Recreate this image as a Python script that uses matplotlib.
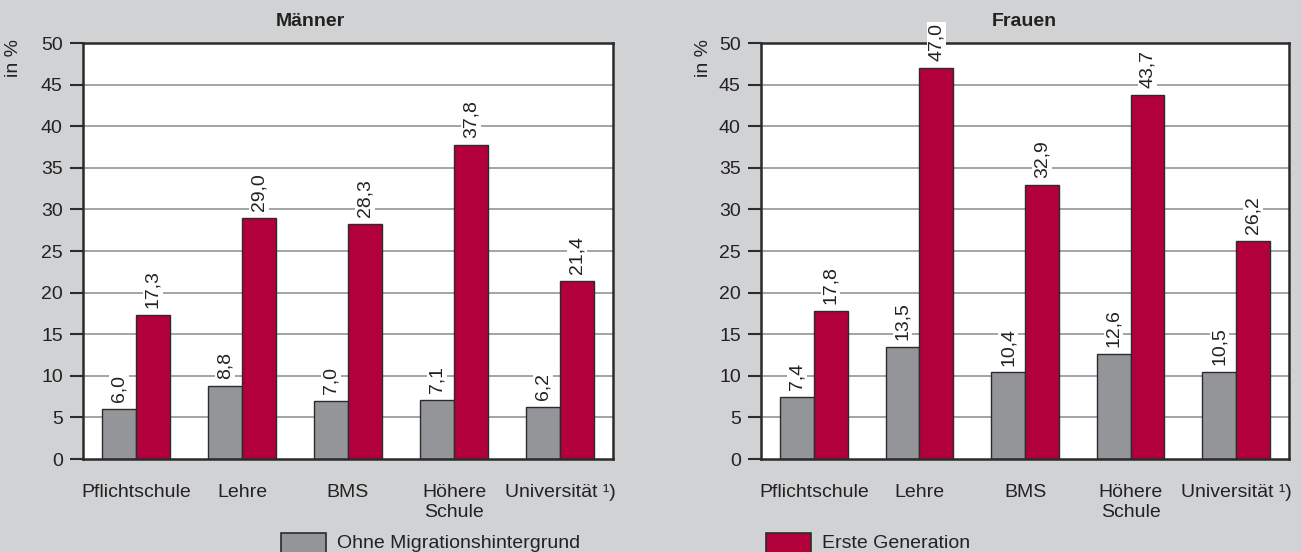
import matplotlib
matplotlib.use("Agg")
import matplotlib.pyplot as plt
from matplotlib.patches import Rectangle
import numpy as np

plt.rcParams['font.family'] = ['Liberation Sans', 'DejaVu Sans']

categories = ["Pflichtschule", "Lehre", "BMS", "Höhere\nSchule", "Universität ¹)"]
series_names = ["Ohne Migrationshintergrund", "Erste Generation"]
maenner_ohne = [6.0, 8.8, 7.0, 7.1, 6.2]
maenner_erste = [17.3, 29.0, 28.3, 37.8, 21.4]
frauen_ohne = [7.4, 13.5, 10.4, 12.6, 10.5]
frauen_erste = [17.8, 47.0, 32.9, 43.7, 26.2]
panel_titles = ["Männer", "Frauen"]
y_ticks = [0, 5, 10, 15, 20, 25, 30, 35, 40, 45, 50]

BG = "#d1d2d4"
GREY = "#939598"
RED = "#b1003b"
EDGE = "#2b2b2b"
GRID = "#a3a4a6"
TXT = "#222222"
FS = 14

W, H = 1302, 552
fig = plt.figure(figsize=(W / 100, H / 100), dpi=100, facecolor=BG)


def px_axes(x0, y_top, x1, y_bot):
    return fig.add_axes([x0 / W, 1 - y_bot / H, (x1 - x0) / W, (y_bot - y_top) / H])


def fmt(v):
    return f"{v:.1f}".replace(".", ",")


def draw_panel(ax, ohne, erste):
    x = np.arange(len(categories))
    bw = 0.32
    ax.set_facecolor("white")
    ax.set_xlim(-0.5, len(categories) - 0.5)
    ax.set_ylim(0, 50)
    ax.set_yticks(y_ticks)
    ax.set_yticklabels([str(t) for t in y_ticks], fontsize=FS, color=TXT)
    ax.tick_params(axis="y", length=9.5, width=1.5, color=EDGE, pad=5)
    ax.set_xticks(x)
    ax.set_xticklabels(categories, fontsize=FS, color=TXT, linespacing=1.25)
    ax.tick_params(axis="x", length=0, pad=18)
    for t in y_ticks[1:-1]:
        ax.axhline(t, color=GRID, lw=1.4, zorder=1)
    for s in ax.spines.values():
        s.set_color(EDGE)
        s.set_linewidth(1.8)
    b1 = ax.bar(x - bw / 2, ohne, bw, color=GREY, edgecolor=EDGE, lw=1.0, zorder=2)
    b2 = ax.bar(x + bw / 2, erste, bw, color=RED, edgecolor=EDGE, lw=1.0, zorder=2)
    for bars, vals in ((b1, ohne), (b2, erste)):
        for rect, v in zip(bars, vals):
            ax.annotate(fmt(v), (rect.get_x() + rect.get_width() / 2, v),
                        xytext=(0, 5), textcoords="offset points",
                        rotation=90, ha="center", va="bottom", fontsize=FS,
                        color=TXT, zorder=5, annotation_clip=False,
                        bbox=dict(facecolor="white", edgecolor="none", pad=0.8))


ax1 = px_axes(83, 43, 613, 459)
draw_panel(ax1, maenner_ohne, maenner_erste)
ax2 = px_axes(761, 43, 1289, 459)
draw_panel(ax2, frauen_ohne, frauen_erste)

# panel titles and axis unit labels
fig.text(310 / W, 1 - 22 / H, panel_titles[0], fontsize=FS, fontweight="bold",
         ha="center", va="center", color=TXT)
fig.text(1024 / W, 1 - 22 / H, panel_titles[1], fontsize=FS, fontweight="bold",
         ha="center", va="center", color=TXT)
for xc in (14, 703):
    fig.text(xc / W, 1 - 58 / H, "in %", fontsize=FS, rotation=90,
             ha="center", va="center", color=TXT)

# legend swatches along the bottom edge
for (x0, col, name) in ((281, GREY, series_names[0]), (766, RED, series_names[1])):
    fig.patches.append(Rectangle((x0 / W, 1 - 560 / H), 45 / W, 27 / H,
                                 transform=fig.transFigure, facecolor=col,
                                 edgecolor=EDGE, lw=1.2))
    fig.text((x0 + 56) / W, 1 - 543 / H, name, fontsize=FS, va="center",
             ha="left", color=TXT)

fig.savefig("out.png", dpi=100, facecolor=BG)
